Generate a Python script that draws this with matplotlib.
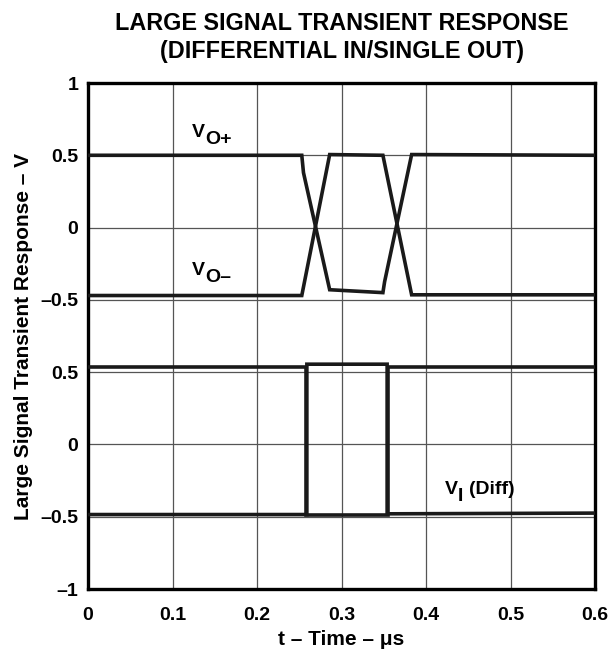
import matplotlib
matplotlib.use("Agg")
import matplotlib.pyplot as plt
import numpy as np

plt.rcParams['font.family'] = ['Liberation Sans', 'DejaVu Sans']

# Output traces (upper half), time in us, voltage in V
t_vo_pos = [0.0, 0.253, 0.255, 0.286, 0.349, 0.351, 0.383, 0.6]
v_vo_pos = [0.50, 0.50, 0.38, -0.43, -0.45, -0.375, 0.505, 0.50]
t_vo_neg = [0.0, 0.253, 0.286, 0.349, 0.383, 0.6]
v_vo_neg = [-0.47, -0.47, 0.505, 0.50, -0.465, -0.465]

# Differential input traces (lower half)
t_vi_a = [0.0, 0.258, 0.258, 0.355, 0.355, 0.6]
v_vi_a = [0.535, 0.535, -0.49, -0.49, 0.535, 0.535]
t_vi_b = [0.0, 0.259, 0.259, 0.354, 0.354, 0.6]
v_vi_b = [-0.485, -0.485, 0.555, 0.555, -0.48, -0.475]

x_ticks = [0, 0.1, 0.2, 0.3, 0.4, 0.5, 0.6]
x_labels = ['0', '0.1', '0.2', '0.3', '0.4', '0.5', '0.6']
y_labels = ['\u20131', '\u20130.5', '0', '0.5', '\u20130.5', '0', '0.5', '1']

# each half spans 4 divisions of 0.5 V
top_center = 5
bottom_center = 2


def to_div(v, center):
    return center + np.asarray(v) / 0.5


fig = plt.figure(figsize=(6.09, 6.49), dpi=100)
ax = fig.add_axes([88 / 609, 1 - 589 / 649, 507 / 609, 506 / 649])

trace = dict(color='#1a1a1a', lw=2.6, solid_joinstyle='miter', zorder=3)
ax.plot(t_vo_pos, to_div(v_vo_pos, top_center), **trace)
ax.plot(t_vo_neg, to_div(v_vo_neg, top_center), **trace)
ax.plot(t_vi_a, to_div(v_vi_a, bottom_center), **trace)
ax.plot(t_vi_b, to_div(v_vi_b, bottom_center), **trace)

ax.set_xlim(0, 0.6)
ax.set_ylim(0, 7)
ax.set_xticks(x_ticks)
ax.set_xticklabels(x_labels, fontsize=14, fontweight='bold')
ax.set_yticks(range(8))
ax.set_yticklabels(y_labels, fontsize=14, fontweight='bold')
ax.tick_params(length=0)
ax.tick_params(axis='x', pad=13)
ax.tick_params(axis='y', pad=7)
ax.grid(True, color='#555555', lw=0.9)
ax.set_axisbelow(True)
for s in ax.spines.values():
    s.set_linewidth(2.4)

ax.set_xlabel('t \u2013 Time \u2013 \u03bcs', fontsize=15, fontweight='bold', labelpad=4)
ax.set_ylabel('Large Signal Transient Response \u2013 V', fontsize=15, fontweight='bold', labelpad=5)

fig.text(342 / 609, 1 - 30 / 649, 'LARGE SIGNAL TRANSIENT RESPONSE', ha='center', va='baseline',
         fontsize=16.8, fontweight='bold')
fig.text(342 / 609, 1 - 58 / 649, '(DIFFERENTIAL IN/SINGLE OUT)', ha='center', va='baseline',
         fontsize=16.8, fontweight='bold')

# trace labels: V with subscript
lab = dict(fontsize=14, fontweight='bold', va='center', ha='left')
ax.text(0.123, 6.31, 'V', **lab)
ax.annotate('O+', (0.123, 6.31), xytext=(9.5, -5), textcoords='offset points', **lab)
ax.text(0.123, 4.40, 'V', **lab)
ax.annotate('O\u2013', (0.123, 4.40), xytext=(9.5, -5), textcoords='offset points', **lab)
ax.text(0.4225, 1.37, 'V', **lab)
ax.annotate('I', (0.4225, 1.37), xytext=(9.5, -5), textcoords='offset points', **lab)
ax.annotate('(Diff)', (0.4225, 1.37), xytext=(17, 0), textcoords='offset points', **lab)

fig.savefig('out.png', dpi=100)
